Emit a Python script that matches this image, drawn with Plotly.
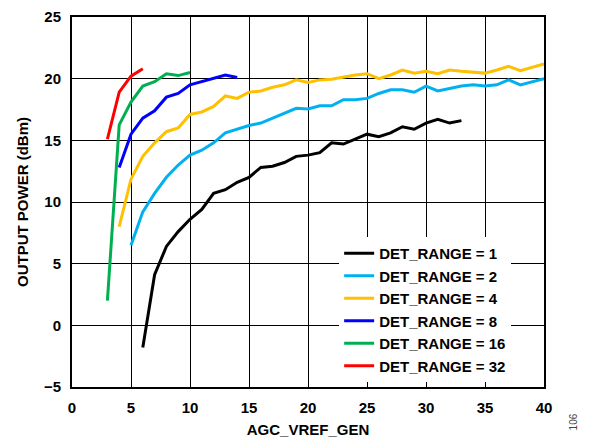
import plotly.graph_objects as go

# AGC_VREF_GEN codes and measured output power (dBm) per DET_RANGE setting
x_det1 = [6, 7, 8, 9, 10, 11, 12, 13, 14, 15, 16, 17, 18, 19, 20, 21, 22, 23,
          24, 25, 26, 27, 28, 29, 30, 31, 32, 33]
y_det1 = [-1.8, 4.1, 6.4, 7.6, 8.6, 9.4, 10.7, 11.0, 11.6, 12.0, 12.8, 12.9,
          13.2, 13.7, 13.8, 14.0, 14.8, 14.7, 15.1, 15.5, 15.3, 15.6, 16.1,
          15.9, 16.4, 16.7, 16.4, 16.6]

x_det2 = [5, 6, 7, 8, 9, 10, 11, 12, 13, 14, 15, 16, 17, 18, 19, 20, 21, 22,
          23, 24, 25, 26, 27, 28, 29, 30, 31, 32, 33, 34, 35, 36, 37, 38, 39, 40]
y_det2 = [6.5, 9.2, 10.7, 12.0, 13.0, 13.8, 14.2, 14.8, 15.6, 15.9, 16.2,
          16.4, 16.8, 17.2, 17.6, 17.55, 17.8, 17.8, 18.3, 18.3, 18.4, 18.8,
          19.1, 19.1, 18.9, 19.4, 19.0, 19.2, 19.4, 19.5, 19.4, 19.5, 19.9,
          19.5, 19.75, 20.0]

x_det4 = [4, 5, 6, 7, 8, 9, 10, 11, 12, 13, 14, 15, 16, 17, 18, 19, 20, 21,
          22, 23, 24, 25, 26, 27, 28, 29, 30, 31, 32, 33, 34, 35, 36, 37, 38,
          39, 40]
y_det4 = [8.0, 11.85, 13.7, 14.8, 15.7, 16.0, 17.1, 17.3, 17.75, 18.6, 18.4,
          18.9, 19.0, 19.3, 19.5, 19.9, 19.7, 19.9, 19.95, 20.15, 20.3, 20.4,
          20.0, 20.3, 20.7, 20.45, 20.6, 20.4, 20.7, 20.6, 20.5, 20.45, 20.7,
          21.0, 20.65, 20.9, 21.2]

x_det8 = [4, 5, 6, 7, 8, 9, 10, 11, 12, 13, 14]
y_det8 = [12.8, 15.5, 16.8, 17.4, 18.5, 18.8, 19.5, 19.75, 20.0, 20.3, 20.1]

x_det16 = [3, 4, 5, 6, 7, 8, 9, 10]
y_det16 = [2.0, 16.25, 18.1, 19.4, 19.75, 20.4, 20.25, 20.5]

x_det32 = [3, 4, 5, 6]
y_det32 = [15.1, 18.9, 20.2, 20.8]

series_names = ["DET_RANGE = 1", "DET_RANGE = 2", "DET_RANGE = 4",
                "DET_RANGE = 8", "DET_RANGE = 16", "DET_RANGE = 32"]
series_colors = ["#000000", "#00B0F0", "#FFC000", "#0000FF", "#00B050", "#FF0000"]

FONT = "Liberation Sans, Arial, sans-serif"
SIZE = 15

fig = go.Figure()
for name, color, xs, ys in zip(
    series_names, series_colors,
    [x_det1, x_det2, x_det4, x_det8, x_det16, x_det32],
    [y_det1, y_det2, y_det4, y_det8, y_det16, y_det32],
):
    fig.add_trace(go.Scatter(x=xs, y=ys, mode="lines", name=name,
                             line=dict(color=color, width=3)))

axis_common = dict(
    showgrid=True, gridcolor="#000000", gridwidth=1,
    showline=True, linecolor="#000000", linewidth=2, mirror=True,
    zeroline=False, ticks="", automargin=False, ticklabeloverflow="allow",
    tickfont=dict(family=FONT, size=SIZE, color="#000000", weight="bold"),
)

fig.update_xaxes(range=[0, 40], dtick=5, ticklabelstandoff=6,
                 title=dict(text="<b>AGC_VREF_GEN</b>", standoff=9,
                            font=dict(family=FONT, size=SIZE, color="#000000")),
                 **axis_common)
fig.update_yaxes(range=[-5, 25], dtick=5, ticklabelstandoff=6,
                 title=dict(text="<b>OUTPUT POWER (dBm)</b>", standoff=12,
                            font=dict(family=FONT, size=SIZE, color="#000000")),
                 **axis_common)

fig.add_annotation(text="106", xref="paper", yref="paper", x=1.062, y=-0.095,
                   xanchor="center", yanchor="middle",
                   showarrow=False, textangle=-90,
                   font=dict(family=FONT, size=10, color="#444444"))

# page body has an 8px margin all round, so the figure is sized to fit
# inside the 589x446 window without scrolling
fig.update_layout(
    width=573, height=430,
    margin=dict(l=64, r=37, t=9, b=51),
    paper_bgcolor="white", plot_bgcolor="white",
    font=dict(family=FONT, color="#000000"),
    legend=dict(x=0.566, y=0.4054, xanchor="left", yanchor="top",
                bgcolor="white", borderwidth=0, itemwidth=30,
                tracegroupgap=0,
                font=dict(family=FONT, size=SIZE, color="#000000", weight="bold")),
)

fig.write_html("out.html")
